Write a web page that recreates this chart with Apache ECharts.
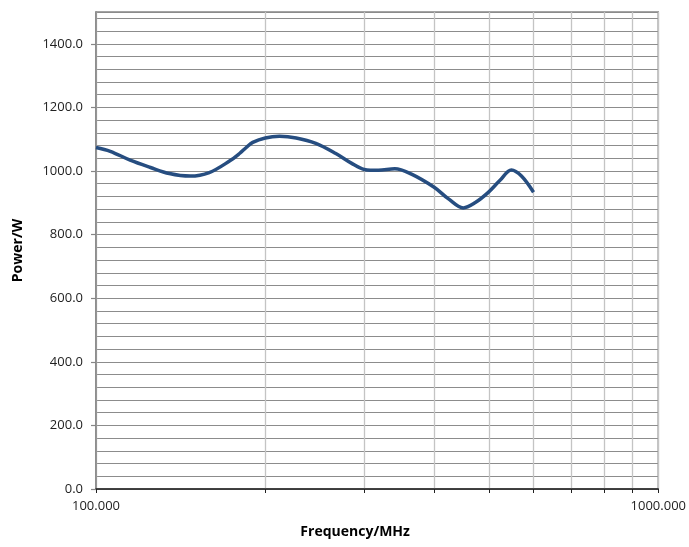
<!DOCTYPE html>
<html>
<head>
<meta charset="utf-8">
<script src="https://cdn.jsdelivr.net/npm/echarts@6/dist/echarts.min.js"></script>
<style>
html,body{margin:0;padding:0;background:#fff;}
#chart{width:689px;height:547px;}
</style>
</head>
<body>
<div id="chart"></div>
<script>
var frequencies = [100, 106, 115, 125, 135, 147, 159, 173, 180, 185, 190, 200, 212, 227, 246, 267, 285, 300, 318, 340, 364, 400, 423, 450, 472, 498, 522, 548, 571, 600];
var powers = [1074, 1062, 1034, 1011, 992, 984, 995, 1032, 1055, 1074, 1090, 1104, 1109, 1104, 1087, 1055, 1024, 1005, 1002, 1007, 990, 948, 913, 884, 900, 932, 969, 1003, 984, 933];
var yTickValues = [0, 200, 400, 600, 800, 1000, 1200, 1400];
var xTickValues = [100, 200, 300, 400, 500, 600, 700, 800, 900, 1000];
var xLabelValues = [100, 1000];

var font = '"Open Sans", "Liberation Sans", sans-serif';
var chart = echarts.init(document.getElementById('chart'), null, {renderer: 'canvas'});
var option = {
  animation: false,
  backgroundColor: '#ffffff',
  grid: {left: 96, right: 28, top: 12, bottom: 58, show: true, borderColor: '#868686', borderWidth: 1.5, backgroundColor: 'transparent'},
  xAxis: {
    type: 'log',
    logBase: 10,
    min: 100,
    max: 1000,
    name: 'Frequency/MHz',
    nameLocation: 'middle',
    nameGap: 36,
    nameTextStyle: {fontFamily: font, fontWeight: 'bold', fontSize: 14, color: '#000', padding: [0, 44, 0, 0]},
    axisLine: {show: true, lineStyle: {color: '#222', width: 1.5}},
    axisTick: {show: true, inside: false, length: 4, customValues: xTickValues, lineStyle: {color: '#222', width: 1}},
    axisLabel: {customValues: xLabelValues, margin: 11, fontFamily: font, fontSize: 13, color: '#222',
      formatter: function (v) { return (v === 100 || v === 1000) ? v.toFixed(3) : ''; }},
    splitLine: {show: true, lineStyle: {color: '#c4c4c4', width: 1.3}},
    minorTick: {show: false},
    minorSplitLine: {show: false}
  },
  yAxis: [
    {
      type: 'value',
      position: 'left',
      min: 0,
      max: 1500,
      interval: 40,
      name: 'Power/W',
      nameLocation: 'middle',
      nameGap: 71,
      nameRotate: 90,
      nameTextStyle: {fontFamily: font, fontWeight: 'bold', fontSize: 14, color: '#000'},
      axisLine: {show: true, lineStyle: {color: '#868686', width: 1.5}},
      axisTick: {show: false},
      axisLabel: {show: false},
      splitLine: {show: true, lineStyle: {color: '#8c8c8c', width: 1.2}}
    },
    {
      type: 'value',
      position: 'left',
      min: 0,
      max: 1500,
      interval: 200,
      axisLine: {show: false},
      axisTick: {show: true, length: 5, customValues: yTickValues, lineStyle: {color: '#868686', width: 1.2}},
      axisLabel: {customValues: yTickValues, margin: 13, fontFamily: font, fontSize: 13, color: '#222',
        formatter: function (v) { return v <= 1400 ? v.toFixed(1) : ''; }},
      splitLine: {show: false}
    }
  ],
  series: [{
    type: 'line',
    yAxisIndex: 0,
    data: frequencies.map(function (f, i) { return [f, powers[i]]; }),
    smooth: 0.35,
    showSymbol: false,
    symbol: 'none',
    lineStyle: {color: '#264d80', width: 3.5},
    z: 5
  }]
};
chart.setOption(option);
</script>
</body>
</html>
